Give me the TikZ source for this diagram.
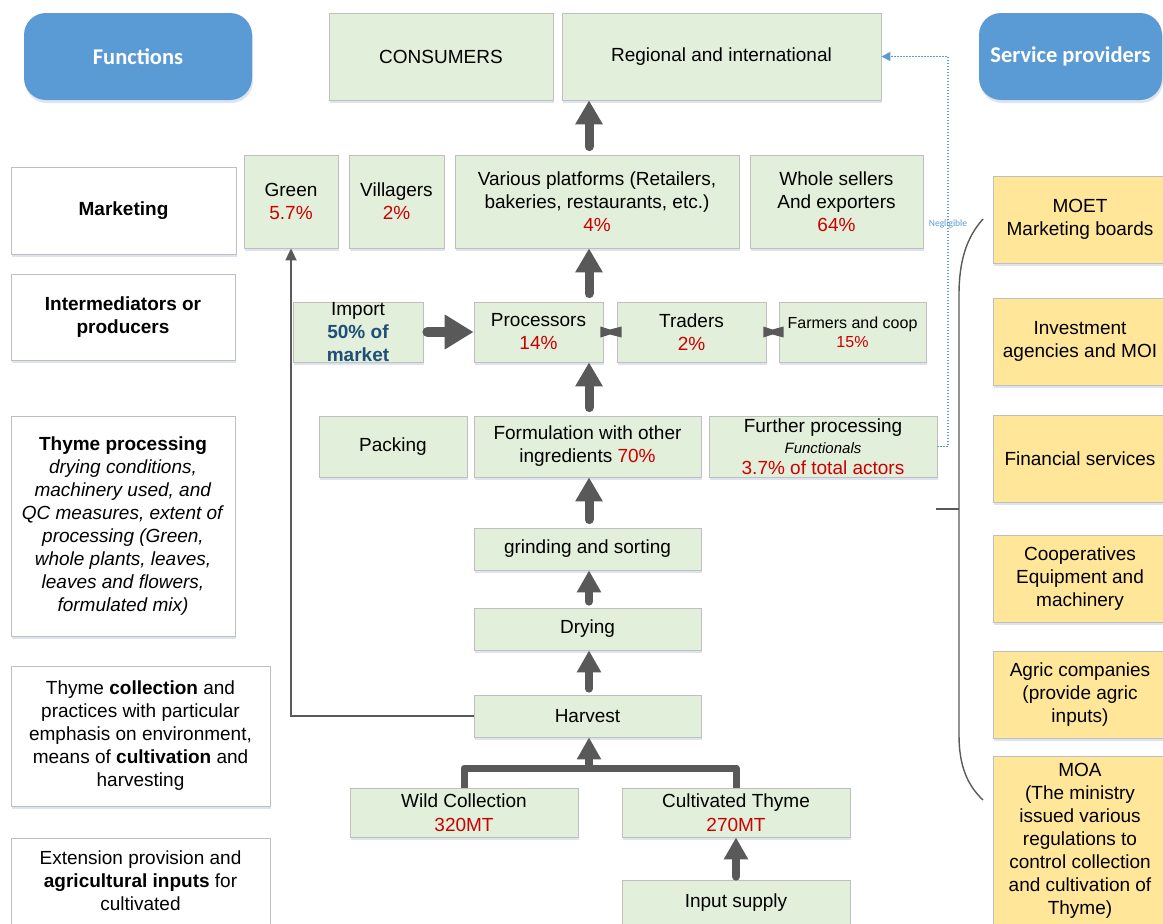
\documentclass[tikz,border=0pt]{standalone}
\usepackage{fontspec}
\setmainfont{Liberation Sans}
\newfontfamily\headfont{Carlito}
\usetikzlibrary{arrows.meta,shadows,calc}

\definecolor{boxgreen}{HTML}{E2EFDA}
\definecolor{boxyellow}{HTML}{FFE699}
\definecolor{headblue}{HTML}{5B9BD5}
\definecolor{edgegray}{HTML}{BFBFBF}
\definecolor{arrowgray}{HTML}{595959}
\definecolor{pctred}{HTML}{CC0000}
\definecolor{darkblue}{HTML}{1F4E79}
\definecolor{shadowblue}{HTML}{DDE4F0}

\newcommand{\pct}[1]{\textcolor{pctred}{#1}}
% two-way link between neighbouring actors: a small bow-tie shape
\newcommand{\linkbow}[2]{%
  \fill[arrowgray] ($(#1.east)+(-3,-5.5)$) -- ($(#1.east)!0.5!(#2.west)+(0,-2.5)$)
    -- ($(#2.west)+(5,-5.5)$) -- ($(#2.west)+(5,5.5)$)
    -- ($(#1.east)!0.5!(#2.west)+(0,2.5)$) -- ($(#1.east)+(-3,5.5)$) -- cycle;}

\begin{document}
\begin{tikzpicture}[x=1pt,y=-1pt,
  sz/.style 2 args={minimum width=#1pt, minimum height=#2pt},
  base/.style={draw=edgegray, line width=0.8pt, inner sep=0pt, align=center,
    font=\fontsize{19}{23}\selectfont,
    general shadow={fill=shadowblue, shadow xshift=1pt, shadow yshift=-3pt}},
  gbox/.style={base, fill=boxgreen},
  ybox/.style={base, fill=boxyellow},
  lbox/.style={base, fill=white},
  hbox/.style={fill=headblue, rounded corners=22pt, text=white, inner sep=0pt,
    font=\headfont\bfseries\fontsize{22.5}{26}\selectfont,
    general shadow={fill=shadowblue, shadow xshift=1pt, shadow yshift=-3pt}},
  txt/.style={inner sep=0pt, align=center, font=\fontsize{19}{23}\selectfont},
  bigarrow/.style={draw=arrowgray, line width=9pt, line cap=round,
    -{Triangle[length=24pt,width=26pt]}, shorten <=8pt},
  midarrow/.style={draw=arrowgray, line width=8pt, line cap=round,
    -{Triangle[length=22pt,width=23pt]}},
  sidearrow/.style={draw=arrowgray, line width=10pt, line cap=round,
    -{Triangle[length=29pt,width=33pt]}},
  joinline/.style={draw=arrowgray, line width=7pt, line join=round},
  thinarrow/.style={draw=arrowgray, line width=1.8pt,
    -{Triangle[length=12pt,width=11pt]}},
  dotline/.style={draw=headblue, line width=1.4pt, dash pattern=on 1.5pt off 1.5pt,
    -{Triangle[length=9pt,width=9pt]}},
  bracket/.style={draw=arrowgray, line width=1.4pt},
  negl/.style={text=headblue, font=\headfont\fontsize{9.5}{10}\selectfont, inner sep=0pt}
]
\useasboundingbox (0,0) rectangle (1163,924);
\clip (0,0) rectangle (1163,924);

% headers
\node[hbox, sz={228}{87}] (func) at (138,56.5) {Functions};
\node[hbox, sz={183}{87}] (serv) at (1070.5,56.5) {Service providers};

% left column: functions
\node[lbox, sz={225}{87}] (mkt) at (123.5,210.5) {\textbf{Marketing}};
\node[lbox, sz={224}{86}] (inter) at (123,317) {\textbf{Intermediators or}\\\textbf{producers}};
\node[lbox, sz={224}{220}] (thproc) at (123,526) {\textbf{Thyme processing}\\
  \textit{drying conditions,}\\\textit{machinery used, and}\\\textit{QC measures, extent of}\\
  \textit{processing (Green,}\\\textit{whole plants, leaves,}\\\textit{leaves and flowers,}\\
  \textit{formulated mix)}};
\node[lbox, sz={259}{140}] (coll) at (140.5,736) {Thyme \textbf{collection} and\\
  practices with particular\\emphasis on environment,\\means of \textbf{cultivation} and\\harvesting};
\node[lbox, sz={259}{86}] (ext) at (140.5,881) {Extension provision and\\
  \textbf{agricultural inputs} for\\cultivated};

% value chain
\node[gbox, sz={224}{87}] (cons) at (441,56.5) {CONSUMERS};
\node[gbox, sz={319}{87}] (regi) at (721.5,56.5) {Regional and international};

\node[gbox, sz={94}{93}] (green) at (291,201.5) {Green\\\pct{5.7\%}};
\node[gbox, sz={95}{93}] (vill) at (396.5,201.5) {Villagers\\\pct{2\%}};
\node[gbox, sz={284}{93}] (vari) at (597,201.5) {Various platforms (Retailers,\\bakeries, restaurants, etc.)\\\pct{4\%}};
\node[gbox, sz={173}{93}] (whole) at (836.5,201.5) {Whole sellers\\And exporters\\\pct{64\%}};

\node[gbox, sz={130}{60}] (import) at (358,332) {};
\node[txt] (importtxt) at (import.center) {Import\\\textcolor{darkblue}{\textbf{50\% of}}\\\textcolor{darkblue}{\textbf{market}}};
\node[gbox, sz={129}{60}] (proc) at (538.5,332) {Processors\\\pct{14\%}};
\node[gbox, sz={149}{60}] (trad) at (691.5,332) {Traders\\\pct{2\%}};
\node[gbox, sz={147}{60}, font=\fontsize{16}{19}\selectfont] (farm) at (852.5,332) {Farmers and coop\\\pct{15\%}};

\node[gbox, sz={148}{61}] (pack) at (393,446.5) {Packing};
\node[gbox, sz={227}{61}] (form) at (587.5,446.5) {Formulation with other\\ingredients \pct{70\%}};
\node[gbox, sz={228}{61}, font=\fontsize{19}{21}\selectfont] (further) at (823,446.5) {Further processing\\
  {\fontsize{15}{21}\selectfont\itshape Functionals}\\\pct{3.7\% of total actors}};

\node[gbox, sz={227}{42}] (grind) at (587.5,549) {grinding and sorting};
\node[gbox, sz={227}{42}] (dry) at (587.5,629) {Drying};
\node[gbox, sz={227}{42}] (harv) at (587.5,716) {Harvest};

\node[gbox, sz={228}{49}, font=\fontsize{19}{24}\selectfont] (wild) at (464,812.5) {Wild Collection\\\pct{320MT}};
\node[gbox, sz={228}{49}, font=\fontsize{19}{24}\selectfont] (cult) at (736,812.5) {Cultivated Thyme\\\pct{270MT}};
\node[gbox, sz={228}{46}] (input) at (736,903) {Input supply};

% service providers
\node[ybox, sz={174}{87}] (moet) at (1080,219.5) {MOET\\Marketing boards};
\node[ybox, sz={174}{87}] (invest) at (1080,341.5) {Investment\\agencies and MOI};
\node[ybox, sz={174}{87}] (fin) at (1080,458.5) {Financial services};
\node[ybox, sz={174}{87}] (coop) at (1080,578.5) {Cooperatives\\Equipment and\\machinery};
\node[ybox, sz={174}{87}] (agric) at (1080,694.5) {Agric companies\\(provide agric\\inputs)};
\node[ybox, sz={174}{169}] (moa) at (1080,840.5) {MOA\\(The ministry\\issued various\\regulations to\\control collection\\and cultivation of\\Thyme)};

% main flow along the central spine
\coordinate (spine) at (589,0);
\draw[bigarrow] (vari.north -| spine) -- (regi.south -| spine);
\draw[bigarrow] (proc.north -| spine) -- (vari.south -| spine);
\draw[bigarrow] (form.north -| spine) -- (proc.south -| spine);
\draw[bigarrow] (grind.north -| spine) -- (form.south -| spine);
\draw[midarrow, shorten <=6pt] (dry.north -| spine) -- (grind.south -| spine);
\draw[midarrow, shorten <=6pt] (harv.north -| spine) -- (dry.south -| spine);

% wild and cultivated supply joining into harvest
\coordinate (jn) at (589,768);
\draw[joinline] (wild.north) |- (jn) -| (cult.north);
\draw[midarrow, line cap=butt] (jn) -- (harv.south -| jn);
\draw[midarrow, shorten <=3pt] (input.north) -- (cult.south);

% imports and links between actors
\draw[sidearrow, shorten <=4pt] (import.east) -- (proc.west);
\linkbow{proc}{trad}
\linkbow{trad}{farm}

% fresh harvest sold green
\draw[thinarrow] (harv.west) -| (green.south);

% small share of functionals exported
\coordinate (dotcol) at (948,0);
\draw[dotline] (further.east) -- (further.east -| dotcol)
  -- node[pos=0.57, negl] (negltxt) {Negligible} (regi.east -| dotcol) -- (regi.east);

% bracket grouping the service providers
\coordinate (brk) at (959,509);
\coordinate (stub) at (936,509);
\draw[bracket] (983,219) .. controls (966,238) and (959,262) .. (959,295)
  -- (959,735) .. controls (959,765) and (967,785) .. (983,800);
\draw[bracket] (stub) -- (brk);
\end{tikzpicture}
\end{document}
